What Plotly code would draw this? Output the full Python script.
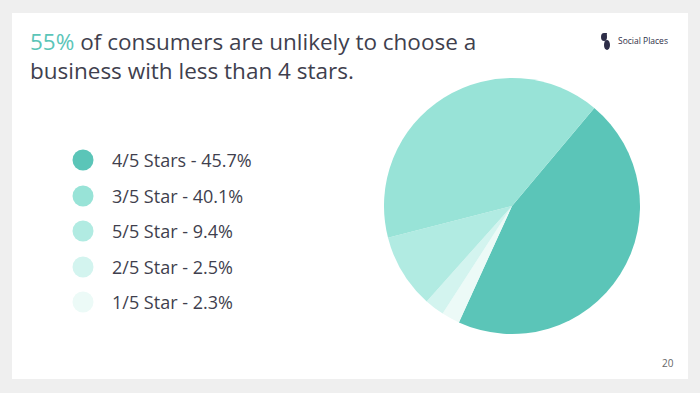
import plotly.graph_objects as go

# Data
labels = ["4/5 Stars", "3/5 Star", "5/5 Star", "2/5 Star", "1/5 Star"]
values = [45.7, 40.1, 9.4, 2.5, 2.3]
colors = ["#5BC5B8", "#98E3D7", "#B1EBE2", "#D3F4EF", "#ECFAF7"]
pie_order = ["4/5 Stars", "1/5 Star", "2/5 Star", "5/5 Star", "3/5 Star"]

idx = [labels.index(l) for l in pie_order]

W, H = 700, 393
FONT = "'Open Sans', Lato, sans-serif"
TXT = "#3f3f4e"

fig = go.Figure()
fig.add_trace(go.Pie(
    labels=[labels[i] for i in idx],
    values=[values[i] for i in idx],
    marker=dict(colors=[colors[i] for i in idx], line=dict(width=0)),
    sort=False, direction="clockwise", rotation=40,
    textinfo="none", hoverinfo="label+percent", showlegend=False,
    domain=dict(x=[384 / W, 640 / W], y=[1 - 334 / H, 1 - 78 / H]),
))

shapes = [
    dict(type="rect", xref="paper", yref="paper", x0=0, x1=1, y0=0, y1=1,
         fillcolor="#efefef", line=dict(width=0), layer="below"),
    dict(type="rect", xref="paper", yref="paper", x0=12 / W, x1=688 / W,
         y0=1 - 379 / H, y1=1 - 13 / H, fillcolor="#ffffff", line=dict(width=0), layer="below"),
]
annotations = []

# custom legend
leg_y = [160, 196, 231, 267, 302]
for lab, val, col, y in zip(labels, values, colors, leg_y):
    r = 10.5
    shapes.append(dict(type="circle", xref="paper", yref="paper",
                       x0=(83 - r) / W, x1=(83 + r) / W,
                       y0=1 - (y + r) / H, y1=1 - (y - r) / H,
                       fillcolor=col, line=dict(width=0)))
    annotations.append(dict(text=f"{lab} - {val}%", xref="paper", yref="paper",
                            x=110 / W, y=1 - y / H, xanchor="left", yanchor="middle",
                            showarrow=False, font=dict(family=FONT, size=18, color=TXT)))

# title
annotations.append(dict(
    text="<span style='color:#5BC5B8'>55%</span> of consumers are unlikely to choose a<br>business with less than 4 stars.",
    xref="paper", yref="paper", x=28 / W, y=1 - 24 / H, xanchor="left", yanchor="top",
    align="left", showarrow=False, font=dict(family=FONT, size=22.5, color=TXT)))

# logo
annotations.append(dict(text="Social Places", xref="paper", yref="paper", x=616 / W, y=1 - 41 / H,
                        xanchor="left", yanchor="middle", showarrow=False,
                        font=dict(family=FONT, size=8.5, color="#2e2e48")))
shapes.append(dict(type="path", xref="paper", yref="paper",
                   path="M {0} {1} L {2} {3} L {4} {5} Z".format(604 / W, 1 - 33 / H, 607 / W, 1 - 33 / H, 605 / W, 1 - 43 / H),
                   fillcolor="#2e2e48", line=dict(width=0)))
shapes.append(dict(type="circle", xref="paper", yref="paper",
                   x0=601 / W, x1=607 / W, y0=1 - 41 / H, y1=1 - 33 / H,
                   fillcolor="#2e2e48", line=dict(width=0)))
shapes.append(dict(type="circle", xref="paper", yref="paper",
                   x0=604 / W, x1=610 / W, y0=1 - 50 / H, y1=1 - 40 / H,
                   fillcolor="#2e2e48", line=dict(width=0)))

# page number
annotations.append(dict(text="20", xref="paper", yref="paper", x=668 / W, y=1 - 363 / H,
                        xanchor="center", yanchor="middle", showarrow=False,
                        font=dict(family=FONT, size=10, color="#666666")))

fig.update_layout(
    width=W, height=H, margin=dict(l=0, r=0, t=0, b=0),
    paper_bgcolor="#efefef", plot_bgcolor="#ffffff",
    shapes=shapes, annotations=annotations,
)
fig.write_html("out.html", config={"displayModeBar": False},
               post_script="document.body.style.margin='0';document.body.style.overflow='hidden';")
